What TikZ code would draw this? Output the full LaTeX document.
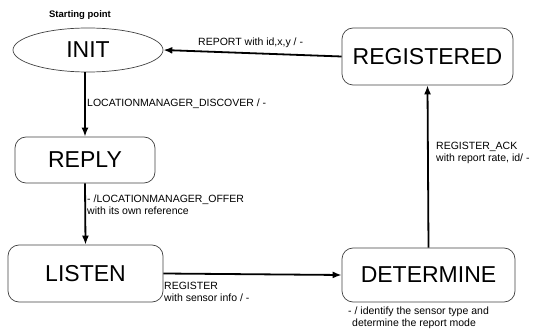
\documentclass[tikz,border=0pt]{standalone}
\usepackage{fontspec}
\setmainfont{Liberation Sans}
\usetikzlibrary{arrows.meta,shapes.geometric}
\begin{document}
\begin{tikzpicture}[x=1pt,y=-1pt,
  statebox/.style={draw=black!75, line width=0.7pt, rounded corners=11pt, inner sep=0pt, font=\fontsize{23}{23}\selectfont},
  stateell/.style={ellipse, draw=black!75, line width=0.7pt, inner sep=0pt, font=\fontsize{23}{23}\selectfont},
  arr/.style={line width=1.8pt, -{Latex[length=9pt,width=7pt]}},
  lbl/.style={font=\fontsize{10.5}{12}\selectfont, inner sep=0pt, anchor=west, align=left}]
\useasboundingbox (0,0) rectangle (541,331);
\node[stateell, minimum width=150pt, minimum height=44pt] (init) at (88,50) {INIT};
\node[font=\bfseries\fontsize{9.5}{11}\selectfont] (start) at (80,15) {Starting point};
\node[statebox, minimum width=171pt, minimum height=57pt] (registered) at (427.5,56.5) {REGISTERED};
\node[statebox, minimum width=140pt, minimum height=46pt] (reply) at (85,160) {REPLY};
\node[statebox, minimum width=155pt, minimum height=57pt] (listen) at (85.5,273.5) {LISTEN};
\node[statebox, minimum width=173pt, minimum height=54pt] (determine) at (428.5,275) {DETERMINE};

\draw[arr] (registered.west) -- (init.east);
\draw[arr] (reply.north |- init.south) -- (reply.north);
\draw[arr] (reply.south) -- (listen.north);
\draw[arr] (listen.east) -- (determine.west);
\draw[arr] (determine.north) -- (registered.south);

\node[lbl] (l1) at (198,43) {REPORT with id,x,y / -};
\node[lbl] (l2) at (87,104) {LOCATIONMANAGER\_DISCOVER / -};
\node[lbl, align=left] (l3) at (87,205) {- /LOCATIONMANAGER\_OFFER\\with its own reference};
\node[lbl] (l4) at (436,153) {REGISTER\_ACK\\with report rate, id/ -};
\node[lbl] (l5) at (164,292) {REGISTER\\with sensor info / -};
\node[lbl] (l6) at (348,317.5) {- / identify the sensor type and\\\hspace*{4pt}determine the report mode};
\end{tikzpicture}
\end{document}
